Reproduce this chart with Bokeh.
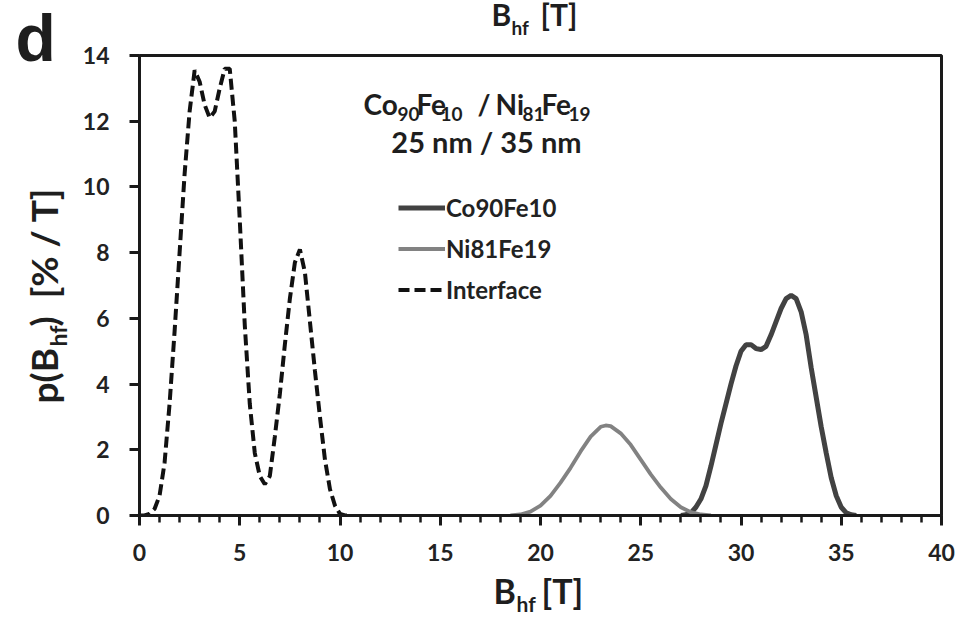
import math
from bokeh.plotting import figure
from bokeh.models import Range1d, Label, Legend, LegendItem, FixedTicker, SingleIntervalTicker
from bokeh.layouts import row, column
from bokeh.embed import file_html
from bokeh.resources import INLINE

# ---- data ----
interface_x = [0.0, 0.25, 0.5, 0.75, 1.0, 1.25, 1.5, 1.75, 2.0, 2.25, 2.5, 2.75, 3.0, 3.25, 3.5,
               3.75, 4.0, 4.25, 4.5, 4.75, 5.0, 5.25, 5.5, 5.75, 6.0, 6.25, 6.5, 6.75, 7.0, 7.25,
               7.5, 7.75, 8.0, 8.25, 8.5, 8.75, 9.0, 9.25, 9.5, 9.75, 10.0, 10.25, 10.5]
interface_y = [0.0, 0.0, 0.05, 0.2, 0.6, 1.6, 3.4, 5.6, 8.0, 10.4, 12.3, 13.55, 13.2, 12.5, 12.1,
               12.3, 13.0, 13.6, 13.6, 12.0, 9.0, 5.8, 3.4, 1.9, 1.2, 0.95, 1.2, 2.4, 3.7, 5.2,
               6.6, 7.7, 8.1, 7.4, 5.9, 4.4, 3.0, 1.7, 0.8, 0.3, 0.05, 0.0, 0.0]

ni_x = [18.5, 19.0, 19.5, 20.0, 20.5, 21.0, 21.5, 22.0, 22.5, 23.0, 23.25, 23.5, 24.0, 24.5,
        25.0, 25.5, 26.0, 26.5, 27.0, 27.5, 28.0, 28.5]
ni_y = [0.0, 0.03, 0.12, 0.3, 0.6, 1.0, 1.45, 1.95, 2.4, 2.7, 2.74, 2.72, 2.5, 2.15,
        1.7, 1.25, 0.85, 0.5, 0.25, 0.1, 0.03, 0.0]

co_x = [27.0, 27.25, 27.5, 27.75, 28.0, 28.25, 28.5, 28.75, 29.0, 29.25, 29.5, 29.75, 30.0,
        30.25, 30.5, 30.75, 31.0, 31.25, 31.5, 31.75, 32.0, 32.25, 32.5, 32.75, 33.0, 33.25,
        33.5, 33.75, 34.0, 34.25, 34.5, 34.75, 35.0, 35.25, 35.5, 35.75]
co_y = [0.0, 0.02, 0.08, 0.25, 0.5, 0.9, 1.5, 2.15, 2.8, 3.4, 4.0, 4.55, 5.0,
        5.2, 5.2, 5.08, 5.05, 5.15, 5.5, 5.9, 6.3, 6.6, 6.7, 6.6, 6.2, 5.5,
        4.5, 3.6, 2.7, 1.9, 1.15, 0.6, 0.25, 0.08, 0.02, 0.0]

x_ticks = [0, 5, 10, 15, 20, 25, 30, 35, 40]
y_ticks = [0, 2, 4, 6, 8, 10, 12, 14]
series_names = ["Co90Fe10", "Ni81Fe19", "Interface"]

FONT = "Lato"
INK = "#1e1e1e"
AXC = "#1a1a1a"

# ---------------- main chart ----------------
p = figure(width=886, height=528, output_backend="svg", toolbar_location=None,
           x_range=Range1d(x_ticks[0], x_ticks[-1]), y_range=Range1d(y_ticks[0], y_ticks[-1]),
           min_border_left=64, min_border_right=20, min_border_top=10, min_border_bottom=58)
p.title.visible = False
p.background_fill_color = "white"
p.border_fill_color = "white"
p.xgrid.visible = False
p.ygrid.visible = False
p.outline_line_color = AXC
p.outline_line_width = 3
p.outline_line_alpha = 1.0

r_co = p.line(co_x, co_y, line_color="#424242", line_width=5)
r_ni = p.line(ni_x, ni_y, line_color="#828282", line_width=3.8)
r_if = p.line(interface_x, interface_y, line_color="#111111", line_width=4, line_dash="11 5")

p.xaxis.ticker = SingleIntervalTicker(interval=x_ticks[1] - x_ticks[0], num_minor_ticks=5)
p.yaxis.ticker = FixedTicker(ticks=y_ticks)
p.axis.axis_line_width = 3
p.axis.axis_line_color = AXC
p.axis.major_tick_line_width = 3
p.axis.major_tick_line_color = AXC
p.axis.major_tick_out = 10
p.axis.major_tick_in = 0
p.axis.major_label_text_font = FONT
p.axis.major_label_text_font_style = "bold"
p.axis.major_label_text_font_size = "23px"
p.axis.major_label_text_color = "#222222"
p.xaxis.minor_tick_out = 7
p.xaxis.minor_tick_in = 0
p.xaxis.minor_tick_line_width = 2.5
p.xaxis.minor_tick_line_color = AXC
p.xaxis.major_label_standoff = 18
p.yaxis.minor_tick_line_color = None
p.yaxis.major_label_standoff = 20

legend = Legend(items=[LegendItem(label=series_names[0], renderers=[r_co]),
                       LegendItem(label=series_names[1], renderers=[r_ni]),
                       LegendItem(label=series_names[2], renderers=[r_if])],
                location=(259, 205), padding=0, margin=0, spacing=0,
                glyph_width=47, glyph_height=41, label_height=41, label_standoff=1,
                label_text_font=FONT, label_text_font_style="bold",
                label_text_font_size="24px", label_text_color="#222222",
                border_line_color=None, background_fill_alpha=0)
p.add_layout(legend, "center")

SHIFT = 0.38  # measured offset of rendered baseline, in em


def lab(fig, text, sx, sy, size, font=FONT, align="left", rotated=False):
    d = SHIFT * size
    if rotated:
        sx -= d
    else:
        sy += d
    fig.add_layout(Label(x=sx, y=sy, x_units="screen", y_units="screen", text=text,
                         text_font=font, text_font_style="bold", text_font_size=f"{size}px",
                         text_color=INK, text_align=align, text_baseline="alphabetic",
                         angle=math.pi / 2 if rotated else 0.0))


# sample annotation inside the frame (frame-relative px, baseline)
for t, sx, sub in [("Co", 224, False), ("90", 258, True), ("Fe", 277, False), ("10", 301, True),
                   ("/", 338, False), ("Ni", 356, False), ("81", 383, True), ("Fe", 402, False),
                   ("19", 429, True)]:
    if sub:
        lab(p, t, sx, 394, 19)
    else:
        lab(p, t, sx, 401, 28)
lab(p, "25 nm / 35 nm", 347, 363, 29, align="center")


# ---------------- text strips around the chart ----------------
def strip(w, h):
    f = figure(width=w, height=h, output_backend="svg", toolbar_location=None,
               x_range=Range1d(0, w), y_range=Range1d(0, h),
               x_axis_type=None, y_axis_type=None, min_border=0)
    f.title.visible = False
    f.xgrid.visible = False
    f.ygrid.visible = False
    f.outline_line_color = None
    f.background_fill_color = "white"
    f.border_fill_color = "white"
    return f


NB = "\u00a0"
left = strip(75, 618)
lab(left, "d", 15, 555, 66, font="Liberation Sans")
lab(left, "p(B", 57, 215, 37, rotated=True)
lab(left, "hf", 66, 272, 23, rotated=True)
lab(left, ")" + NB + NB + "[%" + NB + "/" + NB + "T]", 57, 292, 37, rotated=True)

# top and bottom strips: their frames line up with the chart frame (x from 139 px)
top = strip(886, 45)
lab(top, "B", 352, 20, 30)
lab(top, "hf", 372, 11, 19)
lab(top, "[T]", 401, 20, 30)

bottom = strip(886, 45)
lab(bottom, "B", 354, 15, 34)
lab(bottom, "hf", 377, 7, 21)
lab(bottom, "[T]", 402, 15, 34)

layout = row(left, column(top, p, bottom, spacing=0), spacing=0)

open("out.html", "w").write(file_html(layout, INLINE))
